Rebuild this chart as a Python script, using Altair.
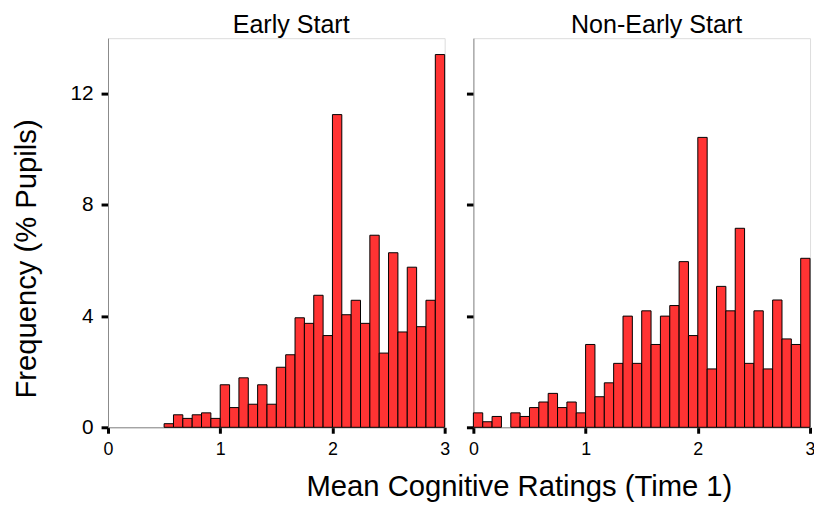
import altair as alt
import pandas as pd

BIN = 1 / 12  # ratings are means of 12 items -> bins of width 1/12

# Early Start: bins from 0.5 to 3.0 (bin index 6..35)
early_first_bin = 6
early_freq = [0.13, 0.45, 0.32, 0.45, 0.52, 0.32, 1.53, 0.71, 1.78, 0.83,
              1.53, 0.83, 2.16, 2.61, 3.94, 3.74, 4.75, 3.30, 11.25, 4.05,
              4.57, 3.74, 6.91, 2.67, 6.28, 3.43, 5.76, 3.62, 4.57, 13.41]

# Non-Early Start: bins from 0 to 3.0 (bin index 0..35)
nonearly_first_bin = 0
nonearly_freq = [0.52, 0.20, 0.39, 0.0, 0.52, 0.39, 0.71, 0.91, 1.22, 0.71,
                 0.91, 0.52, 2.98, 1.10, 1.60, 2.30, 4.00, 2.30, 4.19, 2.98,
                 4.00, 4.38, 5.96, 3.30, 10.43, 2.10, 5.07, 4.19, 7.16, 2.30,
                 4.19, 2.10, 4.58, 3.18, 2.98, 6.08]

x_ticks = [0, 1, 2, 3]
y_ticks = [0, 4, 8, 12]
FONT = "Liberation Sans"


def make_df(first, freqs):
    rows = []
    for i, f in enumerate(freqs):
        k = first + i
        rows.append({"start": k * BIN, "end": (k + 1) * BIN, "freq": f, "base": 0})
    df = pd.DataFrame(rows)
    return df[df["freq"] > 0]


def panel(df, title, left):
    x_axis = alt.Axis(values=x_ticks, format="d", labelFlush=False,
                      tickSize=6, tickWidth=3, tickColor="black",
                      domainColor="#8a8a8a", labelFontSize=18, labelPadding=7,
                      labelColor="black", labelFont=FONT, grid=False,
                      title="Mean Cognitive Ratings (Time 1)" if left else None,
                      titleFontSize=29.5, titleFontWeight="normal", titleFont=FONT,
                      titleColor="black", titleX=415, titlePadding=15)
    y_axis = alt.Axis(values=y_ticks, labels=left, tickSize=7, tickWidth=3,
                      tickColor="black", domainColor="#8a8a8a", grid=False,
                      labelFontSize=21, labelPadding=8, labelColor="black",
                      labelFont=FONT,
                      title="Frequency (% Pupils)" if left else None,
                      titleFontSize=29.5, titleFontWeight="normal", titleFont=FONT,
                      titleColor="black", titleY=222.5, titlePadding=29)
    return alt.Chart(df).mark_bar(fill="#FF3333", stroke="black",
                                  strokeWidth=1).encode(
        x=alt.X("start:Q", scale=alt.Scale(domain=[0, 3], nice=False), axis=x_axis),
        x2="end:Q",
        y=alt.Y("freq:Q", scale=alt.Scale(domain=[0, 14], nice=False), axis=y_axis),
        y2="base:Q",
    ).properties(
        width=340, height=393,
        title=alt.TitleParams(title, fontSize=25.3, fontWeight="normal", font=FONT,
                              color="black", offset=0, dx=15),
    )


left_chart = panel(make_df(early_first_bin, early_freq), "Early Start", True)
right_chart = panel(make_df(nonearly_first_bin, nonearly_freq), "Non-Early Start", False)

chart = alt.hconcat(left_chart, right_chart, spacing=29, bounds="flush").properties(
    padding={"left": 3, "top": 2, "right": -2, "bottom": 0}
).configure_view(stroke="#8a8a8a", strokeWidth=1).configure(background="white")

chart.save("out.html", embed_options={"renderer": "svg", "actions": False})
